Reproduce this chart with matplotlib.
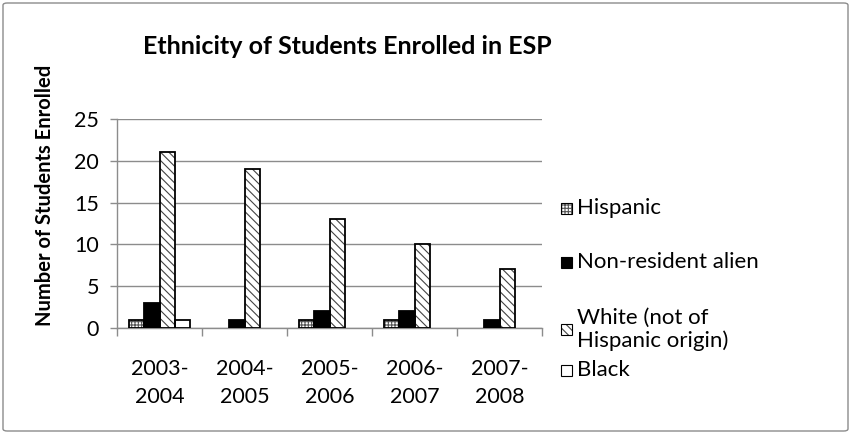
import matplotlib
matplotlib.use('Agg')
import matplotlib.pyplot as plt
from matplotlib.patches import Rectangle, FancyBboxPatch
import numpy as np

plt.rcParams['font.family'] = ['Lato', 'DejaVu Sans']
plt.rcParams['hatch.linewidth'] = 0.8

# 数据
years = ['2003-\n2004', '2004-\n2005', '2005-\n2006', '2006-\n2007', '2007-\n2008']
series_names = ['Hispanic', 'Non-resident alien', 'White (not of\nHispanic origin)', 'Black']
hispanic = [1, 0, 1, 1, 0]
non_resident = [3, 1, 2, 2, 1]
white = [21, 19, 13, 10, 7]
black = [1, 0, 0, 0, 0]
series_values = [hispanic, non_resident, white, black]

# 样式
styles = [
    dict(face='white', hatch='+++++', hcolor='#555555'),
    dict(face='black', hatch=None, hcolor='black'),
    dict(face='white', hatch='\\\\\\\\', hcolor='#444444'),
    dict(face='white', hatch=None, hcolor='black'),
]

W, H = 851, 434
fig = plt.figure(figsize=(W / 100, H / 100), dpi=100)
ax = fig.add_axes([117 / W, 1 - 328 / H, (542 - 117) / W, (328 - 119) / H])

x = np.arange(len(years))
n = len(series_values)
width = 1 / (n + 1.5)
for i, (vals, st) in enumerate(zip(series_values, styles)):
    pos = x + (i - (n - 1) / 2) * width
    v = np.array(vals, dtype=float)
    v[v == 0] = np.nan  # 0值不画
    ax.bar(pos, v, width, color=st['face'], hatch=st['hatch'],
           edgecolor=st['hcolor'], linewidth=0, zorder=3)
    ax.bar(pos, v, width, fill=False, edgecolor='black', linewidth=1.3, zorder=4)

ax.set_xlim(-0.5, len(years) - 0.5)
ax.set_ylim(0, 25)
ax.set_yticks([0, 5, 10, 15, 20, 25])
ax.yaxis.grid(True, color='#8c8c8c', linewidth=1)
ax.set_axisbelow(True)
for s in ['top', 'right']:
    ax.spines[s].set_visible(False)
for s in ['left', 'bottom']:
    ax.spines[s].set_color('#8c8c8c')
    ax.spines[s].set_linewidth(1)

# x轴：主刻度在分类边界，标签放在次刻度
ax.set_xticks(np.arange(len(years) + 1) - 0.5)
ax.set_xticklabels([])
ax.set_xticks(x, minor=True)
ax.set_xticklabels(years, minor=True, fontsize=15.5, linespacing=1.5)
ax.tick_params(axis='x', which='major', length=6, color='#8c8c8c', width=1)
ax.tick_params(axis='x', which='minor', length=0, pad=22)
ax.tick_params(axis='y', length=5, color='#8c8c8c', width=1, labelsize=15.5, pad=8)

fig.text(45 / W, 1 - 195 / H, 'Number of Students Enrolled', rotation=90, ha='center', va='center',
         fontsize=14.5, fontweight='bold')
fig.text(347 / W, 1 - 47 / H, 'Ethnicity of Students Enrolled in ESP', ha='center', va='center',
         fontsize=18, fontweight='bold')

# 图例
leg_y = [208, 262, 329, 370]
for name, st, yy in zip(series_names, styles, leg_y):
    sq = 11
    fig.patches.append(Rectangle(((566 - sq / 2) / W, 1 - (yy + sq / 2) / H), sq / W, sq / H,
                                 transform=fig.transFigure, facecolor=st['face'], hatch=st['hatch'],
                                 edgecolor=st['hcolor'], linewidth=0))
    fig.patches.append(Rectangle(((566 - sq / 2) / W, 1 - (yy + sq / 2) / H), sq / W, sq / H,
                                 transform=fig.transFigure, fill=False, edgecolor='black', linewidth=0.8))
    fig.text(577 / W, 1 - yy / H, name, ha='left', va='center', fontsize=16, linespacing=1.15)

# 外框
fig.patches.append(FancyBboxPatch((3 / W, 3 / H), (W - 6) / W, (H - 6) / H,
                                  boxstyle='round,pad=0,rounding_size=0.005', transform=fig.transFigure,
                                  fill=False, edgecolor='#8c8c8c', linewidth=1))

fig.savefig('out.png', dpi=100)
